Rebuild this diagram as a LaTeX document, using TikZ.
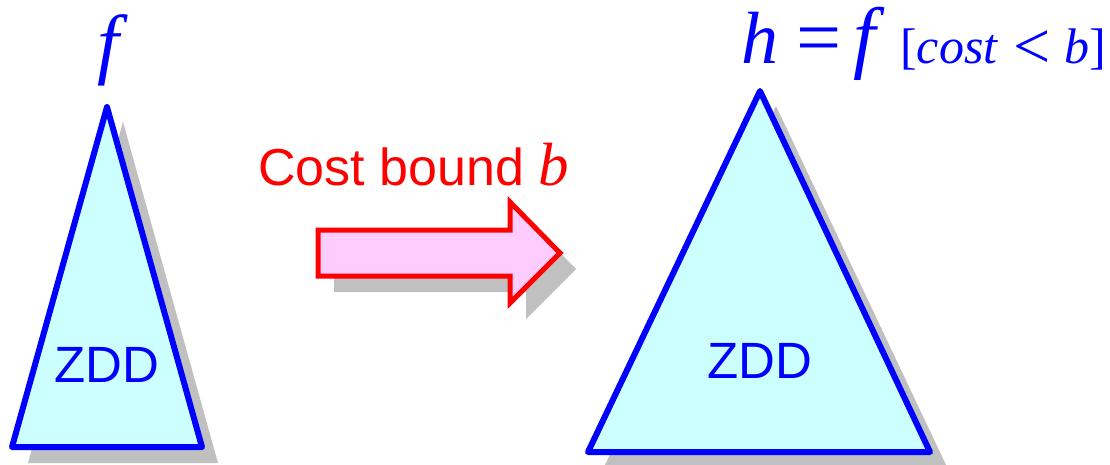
\documentclass[tikz,border=0pt]{standalone}
\usepackage{fontspec}
\setmainfont{Liberation Serif}
\setsansfont{Liberation Sans}
\definecolor{zblue}{RGB}{0,0,255}
\definecolor{zfill}{RGB}{204,255,255}
\definecolor{afill}{RGB}{255,204,255}
\definecolor{shade}{RGB}{192,192,192}
\begin{document}
\begin{tikzpicture}[x=1pt,y=-1pt,
  tri/.style={draw=zblue,fill=zfill,line width=6pt,line join=round},
  shad/.style={fill=shade},
  arr/.style={draw=red,fill=afill,line width=5pt,line join=miter},
  zdd/.style={text=zblue,font=\sffamily\fontsize{51}{56}\selectfont,inner sep=0pt,anchor=base},
  mlab/.style={text=zblue,inner sep=0pt}]
\useasboundingbox (0,0) rectangle (1110,464);
% left triangle
\fill[shad] (123,122) -- (218,463) -- (28,463) -- cycle;
\draw[tri] (107,107) -- (202,447) -- (12,447) -- cycle;
\node[zdd] (z1) at (107,382) {ZDD};
\node[mlab,anchor=base] (f1) at (113,69) {\fontsize{78}{84}\selectfont\textit{f}};
% arrow
\fill[shad] (334,246) -- (526,246) -- (526,218) -- (576,269) -- (526,319) -- (526,292) -- (334,292) -- cycle;
\draw[arr] (318,230) -- (510,230) -- (510,202) -- (560,253) -- (510,303) -- (510,276) -- (318,276) -- cycle;
\node[text=red,inner sep=0pt,anchor=base west] (cb) at (258,185) {\sffamily\fontsize{52}{58}\selectfont Cost bound \rmfamily\itshape\fontsize{61}{66}\selectfont b};
% right triangle
\fill[shad] (776,106) -- (947,467) -- (604,467) -- cycle;
\draw[tri] (760,91) -- (930,452) -- (588,452) -- cycle;
\node[zdd] (z2) at (760,378) {ZDD};
\node[mlab,anchor=base west] (hh) at (741,63) {\fontsize{74}{80}\selectfont\textit{h}};
\node[mlab,anchor=base] (eq) at (819,64) {\fontsize{80}{86}\selectfont=};
\node[mlab,anchor=base] (ff) at (869,63) {\fontsize{80}{86}\selectfont\textit{f}};
\node[mlab,anchor=base west] (sub) at (900,63) {\fontsize{50}{56}\selectfont[\textit{cost}\hspace{15pt}\raisebox{-5pt}{\fontsize{66}{70}\selectfont<}\hspace{14pt}\textit{b}]};
\end{tikzpicture}
\end{document}
